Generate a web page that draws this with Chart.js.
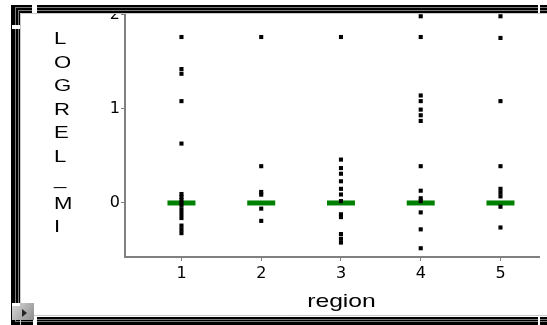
<!DOCTYPE html>
<html><head><meta charset="utf-8">
<script src="https://cdn.jsdelivr.net/npm/chart.js@4"></script>
<style>html,body{margin:0;padding:0;background:#fff;overflow:hidden}canvas{display:block}</style>
</head><body>
<canvas id="c" width="547" height="325"></canvas>
<script>
// ---- data ----
const categories = [1, 2, 3, 4, 5];
const categoryLabels = ['1', '2', '3', '4', '5'];
const region1 = [1.76, 1.42, 1.37, 1.08, 0.63, 0.095, 0.064, 0.032, 0.0, -0.03, -0.074, -0.117, -0.16, -0.24, -0.28, -0.32];
const region2 = [1.76, 0.39, 0.117, 0.088, -0.06, -0.19];
const region3 = [1.76, 0.46, 0.37, 0.31, 0.23, 0.15, 0.09, 0.02, -0.12, -0.15, -0.33, -0.38, -0.42];
const region4 = [1.98, 1.76, 1.14, 1.08, 0.99, 0.93, 0.87, 0.39, 0.13, 0.05, 0.02, -0.10, -0.28, -0.48];
const region5 = [1.98, 1.75, 1.08, 0.39, 0.15, 0.11, 0.07, -0.04, -0.26];
const medians = [0, 0, 0, 0, 0];
const yTicks = [0, 1, 2];
const yTickLabels = ['0', '1', '2'];
const yTitle = 'LOGREL_MI';
const xTitle = 'region';

const regionSeries = [region1, region2, region3, region4, region5];
const pointData = [];
regionSeries.forEach((arr, i) => arr.forEach(v => pointData.push({x: categories[i], y: v})));
const medianData = categories.map((c, i) => ({x: c, y: medians[i]}));

function drawFrame(ctx) {
  ctx.save();
  // black bevel frame
  ctx.fillStyle = '#000';
  ctx.fillRect(11, 5, 540, 8);      // top
  ctx.fillRect(11, 5, 9, 320);      // left
  ctx.fillRect(11, 317, 540, 8);    // bottom
  ctx.strokeStyle = '#7a7a7a';
  ctx.lineWidth = 1;
  ctx.strokeRect(15.5, 7.5, 600, 314);
  ctx.strokeRect(18.5, 10.5, 600, 309);
  ctx.strokeStyle = '#c8c8c8';
  ctx.beginPath();
  ctx.moveTo(20.5, 325); ctx.lineTo(20.5, 13.5); ctx.lineTo(547, 13.5);
  ctx.moveTo(20.5, 315.5); ctx.lineTo(547, 315.5);
  ctx.stroke();
  // white notches
  ctx.fillStyle = '#fff';
  ctx.fillRect(32, 5, 5, 8);
  ctx.fillRect(12, 25, 8, 4);
  ctx.fillRect(538, 5, 2, 8);
  ctx.fillRect(33, 317, 4, 8);
  ctx.fillRect(538, 317, 2, 8);
  // bottom-left button
  const g = ctx.createLinearGradient(12, 303, 34, 320);
  g.addColorStop(0, '#d8d8d8'); g.addColorStop(1, '#8c8c8c');
  ctx.fillStyle = g;
  ctx.fillRect(12, 303, 22, 17);
  ctx.fillStyle = '#fff';
  ctx.fillRect(12, 303, 8, 3);
  ctx.fillStyle = '#222';
  ctx.beginPath();
  ctx.moveTo(22, 309); ctx.lineTo(27, 313); ctx.lineTo(22, 317); ctx.closePath();
  ctx.fill();
  ctx.restore();
}

const framePlugin = {
  id: 'frame',
  beforeDraw(chart) {
    const ctx = chart.ctx;
    ctx.save();
    ctx.fillStyle = '#fff';
    ctx.fillRect(0, 0, 547, 325);
    ctx.restore();
  },
  afterDraw(chart) {
    const ctx = chart.ctx;
    drawFrame(ctx);
    ctx.save();
    ctx.fillStyle = '#000';
    ctx.textBaseline = 'alphabetic';
    ctx.textAlign = 'left';
    ctx.font = '17px "Liberation Sans", Arial, sans-serif';
    const letters = yTitle.split('');
    letters.forEach((ch, i) => {
      const cy = 38 + i * 23.5;
      ctx.save();
      ctx.translate(54, cy + 6);
      ctx.scale(1.3, 1);
      ctx.fillText(ch, 0, 0);
      ctx.restore();
    });
    ctx.font = '19px "Liberation Sans", Arial, sans-serif';
    ctx.textAlign = 'center';
    ctx.translate(341.5, 307);
    ctx.scale(1.3, 1);
    ctx.fillText(xTitle, 0, 0);
    ctx.restore();
  }
};

const zeroPad = s => { s.paddingTop = 0; s.paddingBottom = 0; s.paddingLeft = 0; s.paddingRight = 0; };

new Chart(document.getElementById('c'), {
  type: 'scatter',
  data: {
    datasets: [
      {
        label: 'LOGREL_MI',
        data: pointData,
        pointStyle: 'rect',
        pointRadius: 2.9,
        backgroundColor: '#000',
        borderWidth: 0,
        clip: false
      },
      {
        label: 'median',
        data: medianData,
        pointStyle: 'line',
        pointRadius: 14,
        borderWidth: 5,
        borderColor: '#008000',
        backgroundColor: '#008000',
        showLine: false,
        clip: false
      }
    ]
  },
  options: {
    responsive: false,
    devicePixelRatio: 1,
    animation: false,
    events: [],
    layout: {autoPadding: false, padding: {left: 0, top: 14, right: 8, bottom: 0}},
    plugins: {legend: {display: false}, tooltip: {enabled: false}},
    scales: {
      x: {
        type: 'linear',
        min: 0.292,
        max: 5.483,
        afterBuildTicks: s => { s.ticks = categories.map(v => ({value: v})); },
        afterFit: s => { s.height = 68; zeroPad(s); },
        ticks: {
          autoSkip: false, maxRotation: 0, padding: 3, color: '#000',
          font: {family: '"DejaVu Sans", sans-serif', size: 16},
          callback: v => { const i = categories.indexOf(v); return i >= 0 ? categoryLabels[i] : ''; }
        },
        grid: {drawOnChartArea: false, drawTicks: true, tickLength: 4, color: '#808080', lineWidth: 1},
        border: {display: true, color: '#808080', width: 2},
        title: {display: false}
      },
      y: {
        type: 'linear',
        min: -0.573,
        max: 2.004,
        afterBuildTicks: s => { s.ticks = yTicks.map(v => ({value: v})); },
        afterFit: s => { s.width = 125; zeroPad(s); },
        ticks: {
          autoSkip: false, padding: 1, color: '#000',
          font: {family: '"DejaVu Sans", sans-serif', size: 16},
          callback: v => { const i = yTicks.indexOf(v); return i >= 0 ? yTickLabels[i] : ''; }
        },
        grid: {drawOnChartArea: false, drawTicks: true, tickLength: 4, color: '#808080', lineWidth: 1},
        border: {display: true, color: '#808080', width: 2},
        title: {display: false}
      }
    }
  },
  plugins: [framePlugin]
});
</script>
</body></html>
